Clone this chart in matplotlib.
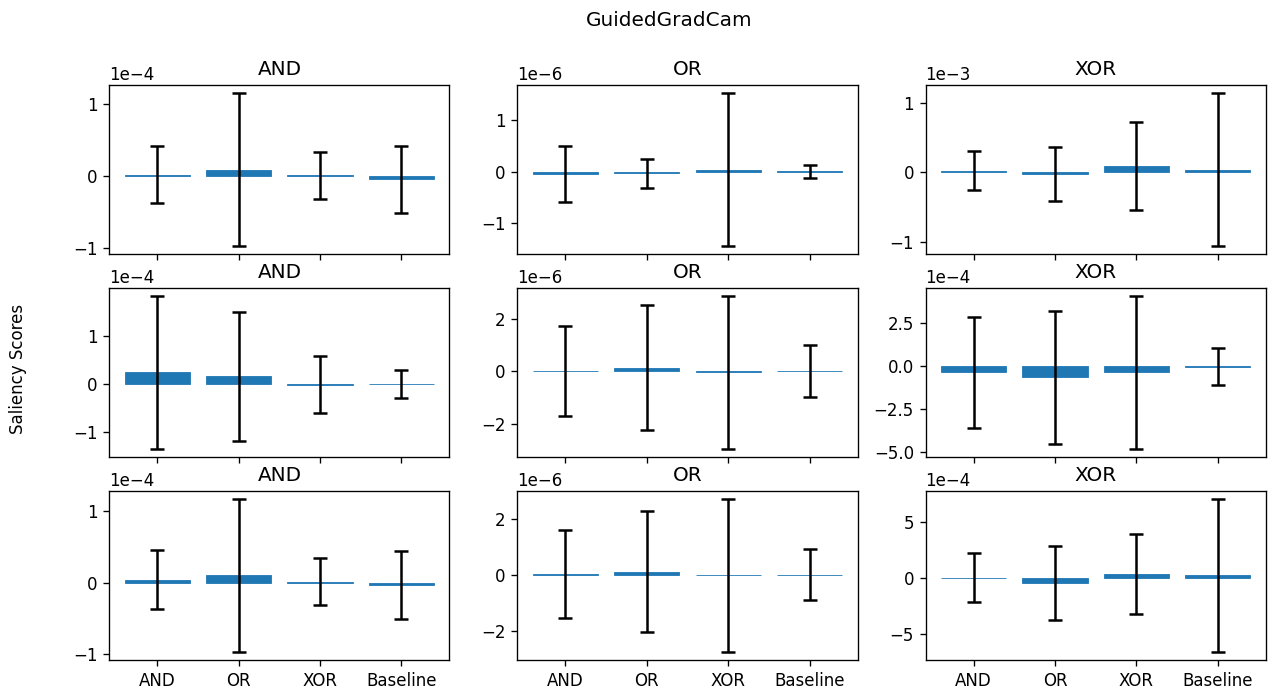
import numpy as np
import matplotlib
matplotlib.use("Agg")
import matplotlib.pyplot as plt
from matplotlib.ticker import MaxNLocator

# nhãn trục x và tiêu đề từng cột
categories = ["AND", "OR", "XOR", "Baseline"]
col_titles = ["AND", "OR", "XOR"]

# hệ số mũ của mỗi ô (hàng, cột)
scales = [[1e-4, 1e-6, 1e-3],
          [1e-4, 1e-6, 1e-4],
          [1e-4, 1e-6, 1e-4]]

# giá trị trung bình (đơn vị theo scales)
mean_r0 = [[0.02, 0.09, 0.01, -0.045],
           [-0.045, -0.035, 0.04, 0.003],
           [0.025, -0.025, 0.09, 0.04]]
mean_r1 = [[0.24, 0.16, -0.01, 0.003],
           [0.02, 0.15, -0.04, 0.005],
           [-0.37, -0.66, -0.37, -0.03]]
mean_r2 = [[0.04, 0.10, 0.015, -0.035],
           [0.02, 0.12, -0.02, 0.005],
           [0.04, -0.45, 0.42, 0.25]]

# độ lệch chuẩn (thanh lỗi)
err_r0 = [[0.40, 1.065, 0.325, 0.467],
          [0.545, 0.28, 1.49, 0.126],
          [0.277, 0.384, 0.635, 1.106]]
err_r1 = [[1.59, 1.335, 0.59, 0.286],
          [1.725, 2.41, 2.945, 0.995],
          [3.24, 3.87, 4.45, 1.05]]
err_r2 = [[0.41, 1.072, 0.323, 0.475],
          [1.575, 2.18, 2.755, 0.915],
          [2.2, 3.29, 3.57, 6.86]]

means = [mean_r0, mean_r1, mean_r2]
errs = [err_r0, err_r1, err_r2]

fig, axes = plt.subplots(3, 3, sharex=True, figsize=(1268 / 120, 688 / 120), dpi=120)
fig.subplots_adjust(left=0.0862, right=0.9982, top=0.8765, bottom=0.0407,
                    wspace=0.2, hspace=0.2)

for r in range(3):
    for c in range(3):
        ax = axes[r, c]
        s = scales[r][c]
        m = np.array(means[r][c]) * s
        e = np.array(errs[r][c]) * s
        ax.bar(categories, m, width=0.8, color="#1f77b4",
               edgecolor="#1f77b4", linewidth=0.5,
               yerr=e, capsize=4, ecolor="black",
               error_kw=dict(elinewidth=1.5, capthick=1.5))
        ax.yaxis.set_major_locator(MaxNLocator(nbins=4, steps=[1, 2, 2.5, 5, 10]))
        ax.ticklabel_format(axis="y", style="sci", scilimits=(0, 0))
        ax.set_title(col_titles[c])

fig.text(0.5276, 1 - 20 / 688, "GuidedGradCam", ha="center", va="center", fontsize=12)
fig.text(18 / 1268, 1 - 369 / 688, "Saliency Scores", ha="center", va="center",
         rotation=90, fontsize=10)

plt.savefig("out.png", dpi=120)
